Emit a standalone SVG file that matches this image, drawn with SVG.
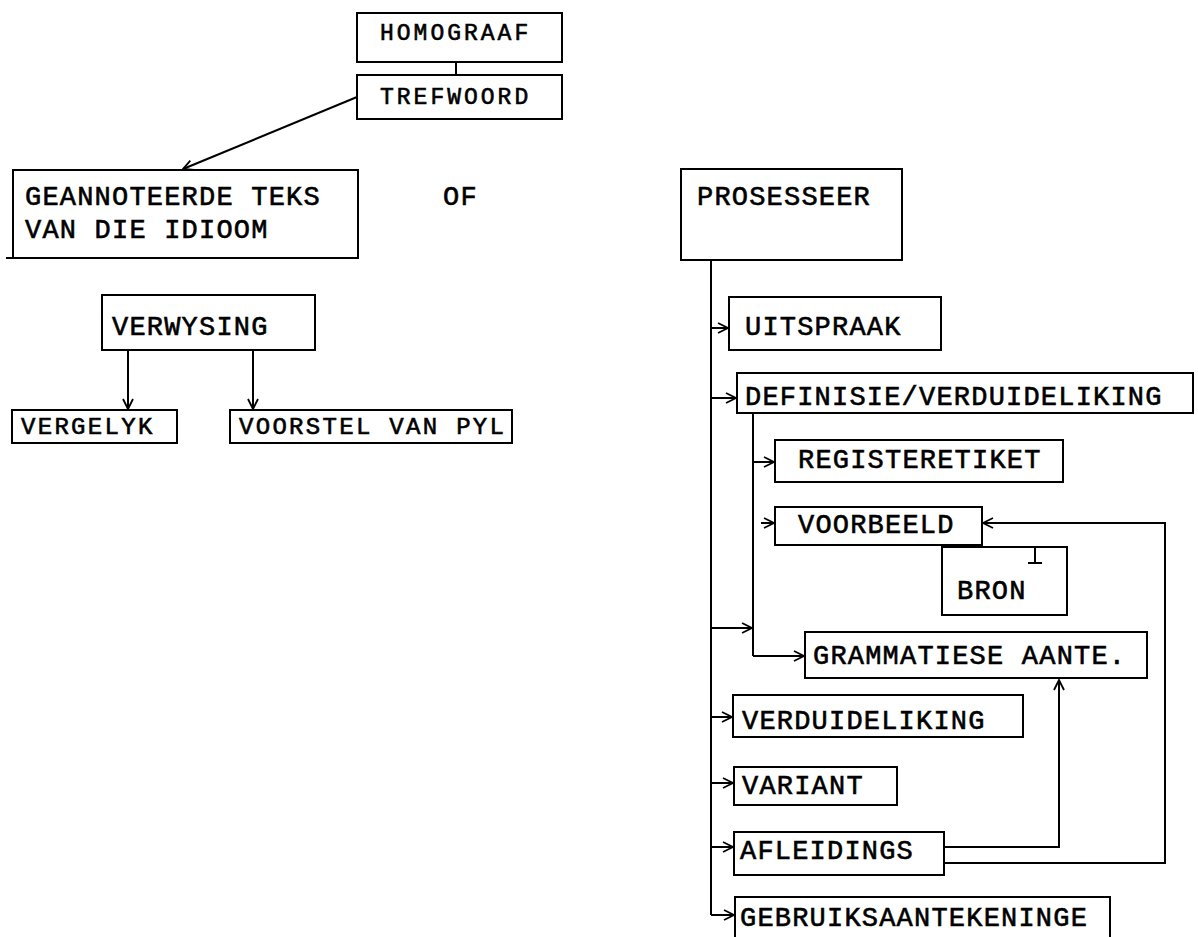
<svg xmlns="http://www.w3.org/2000/svg" width="1198" height="937" viewBox="0 0 1198 937">
  <style>
    .box { fill: #fff; stroke: #000; stroke-width: 2; }
    .lbl { font-family: "Liberation Mono", "DejaVu Sans Mono", monospace; font-size: 27px; letter-spacing: 1.2px; fill: #000; stroke: #000; stroke-width: 0.6; }
    .sm { font-size: 24px; letter-spacing: 2.3px; }
    .xs { font-size: 23px; letter-spacing: 3px; }
    .wire { fill: none; stroke: #000; stroke-width: 2; }
  </style>
  <defs>
    <marker id="arr" viewBox="0 0 12 12" refX="11" refY="6" markerWidth="12" markerHeight="12" markerUnits="userSpaceOnUse" orient="auto">
      <path d="M1,1 L11,6 L1,11" fill="none" stroke="#000" stroke-width="1.8"/>
    </marker>
  </defs>
  <rect width="1198" height="937" fill="#fff"/>

  <g id="homograaf">
    <rect class="box" x="357" y="13" width="205" height="49"/>
    <text class="lbl xs" x="380" y="40">HOMOGRAAF</text>
  </g>
  <g id="trefwoord">
    <rect class="box" x="357" y="75" width="205" height="44"/>
    <text class="lbl xs" x="380" y="104">TREFWOORD</text>
  </g>
  <g id="geannoteerde">
    <rect class="box" x="13" y="170" width="345" height="88"/>
    <line class="wire" x1="6" y1="258" x2="14" y2="258"/>
    <text class="lbl" x="25" y="205">GEANNOTEERDE TEKS</text>
    <text class="lbl" x="25" y="238">VAN DIE IDIOOM</text>
  </g>
  <g id="of">
    <text class="lbl" x="443" y="205">OF</text>
  </g>
  <g id="prosesseer">
    <rect class="box" x="681" y="169" width="221" height="91"/>
    <text class="lbl" x="697" y="205">PROSESSEER</text>
  </g>
  <g id="verwysing">
    <rect class="box" x="102" y="295" width="213" height="55"/>
    <text class="lbl" x="112" y="335">VERWYSING</text>
  </g>
  <g id="vergelyk">
    <rect class="box" x="12" y="410" width="165" height="33"/>
    <text class="lbl sm" x="21" y="434">VERGELYK</text>
  </g>
  <g id="voorstel">
    <rect class="box" x="230" y="410" width="282" height="33"/>
    <text class="lbl sm" x="239" y="434">VOORSTEL VAN PYL</text>
  </g>
  <g id="uitspraak">
    <rect class="box" x="729" y="297" width="212" height="53"/>
    <text class="lbl" x="745" y="335">UITSPRAAK</text>
  </g>
  <g id="definisie">
    <rect class="box" x="737" y="373" width="456" height="40"/>
    <text class="lbl" x="745" y="405">DEFINISIE/VERDUIDELIKING</text>
  </g>
  <g id="registeretiket">
    <rect class="box" x="775" y="440" width="288" height="42"/>
    <text class="lbl" x="798" y="468">REGISTERETIKET</text>
  </g>
  <g id="voorbeeld">
    <rect class="box" x="775" y="507" width="207" height="38"/>
    <text class="lbl" x="798" y="533">VOORBEELD</text>
  </g>
  <g id="bron">
    <rect class="box" x="942" y="547" width="125" height="68"/>
    <text class="lbl" x="957" y="599">BRON</text>
  </g>
  <g id="grammatiese">
    <rect class="box" x="805" y="632" width="342" height="46"/>
    <text class="lbl" x="813" y="664">GRAMMATIESE AANTE.</text>
  </g>
  <g id="verduideliking">
    <rect class="box" x="733" y="695" width="290" height="42"/>
    <text class="lbl" x="742" y="729">VERDUIDELIKING</text>
  </g>
  <g id="variant">
    <rect class="box" x="734" y="767" width="163" height="38"/>
    <text class="lbl" x="742" y="794">VARIANT</text>
  </g>
  <g id="afleidings">
    <rect class="box" x="734" y="832" width="210" height="43"/>
    <text class="lbl" x="740" y="859">AFLEIDINGS</text>
  </g>
  <g id="gebruiksaantekeninge">
    <rect class="box" x="735" y="897" width="375" height="46"/>
    <text class="lbl" x="740" y="926">GEBRUIKSAANTEKENINGE</text>
  </g>

  <!-- connectors, drawn over the boxes -->
  <g id="connectors">
    <line class="wire" x1="456" y1="62" x2="456" y2="75"/>
    <line class="wire" x1="357" y1="97" x2="183" y2="169" marker-end="url(#arr)"/>
    <line class="wire" x1="128" y1="350" x2="128" y2="409" stroke-width="3" marker-end="url(#arr)"/>
    <line class="wire" x1="253" y1="350" x2="253" y2="409" marker-end="url(#arr)"/>
    <!-- main trunk -->
    <line class="wire" x1="711" y1="260" x2="711" y2="915"/>
    <line class="wire" x1="711" y1="328" x2="728" y2="328" stroke-width="3" marker-end="url(#arr)"/>
    <line class="wire" x1="711" y1="398" x2="736" y2="398" marker-end="url(#arr)"/>
    <line class="wire" x1="711" y1="628" x2="752" y2="628" marker-end="url(#arr)"/>
    <line class="wire" x1="711" y1="717" x2="732" y2="717" marker-end="url(#arr)"/>
    <line class="wire" x1="711" y1="783" x2="733" y2="783" marker-end="url(#arr)"/>
    <line class="wire" x1="711" y1="847" x2="733" y2="847" marker-end="url(#arr)"/>
    <line class="wire" x1="711" y1="915" x2="734" y2="915" marker-end="url(#arr)"/>
    <!-- secondary trunk under DEFINISIE -->
    <line class="wire" x1="753" y1="413" x2="753" y2="656"/>
    <line class="wire" x1="753" y1="462" x2="774" y2="462" marker-end="url(#arr)"/>
    <line class="wire" x1="761" y1="523" x2="774" y2="523" marker-end="url(#arr)"/>
    <line class="wire" x1="753" y1="656" x2="804" y2="656" marker-end="url(#arr)"/>
    <!-- AFLEIDINGS feedback loops -->
    <polyline class="wire" points="944,847 1059,847 1059,680" marker-end="url(#arr)"/>
    <polyline class="wire" points="944,863 1165,863 1165,523 983,523" marker-end="url(#arr)"/>
    <!-- VOORBEELD to BRON tie -->
    <path class="wire" d="M1035,547 V563 M1028,563 H1042" stroke-width="2.5"/>
  </g>
</svg>
